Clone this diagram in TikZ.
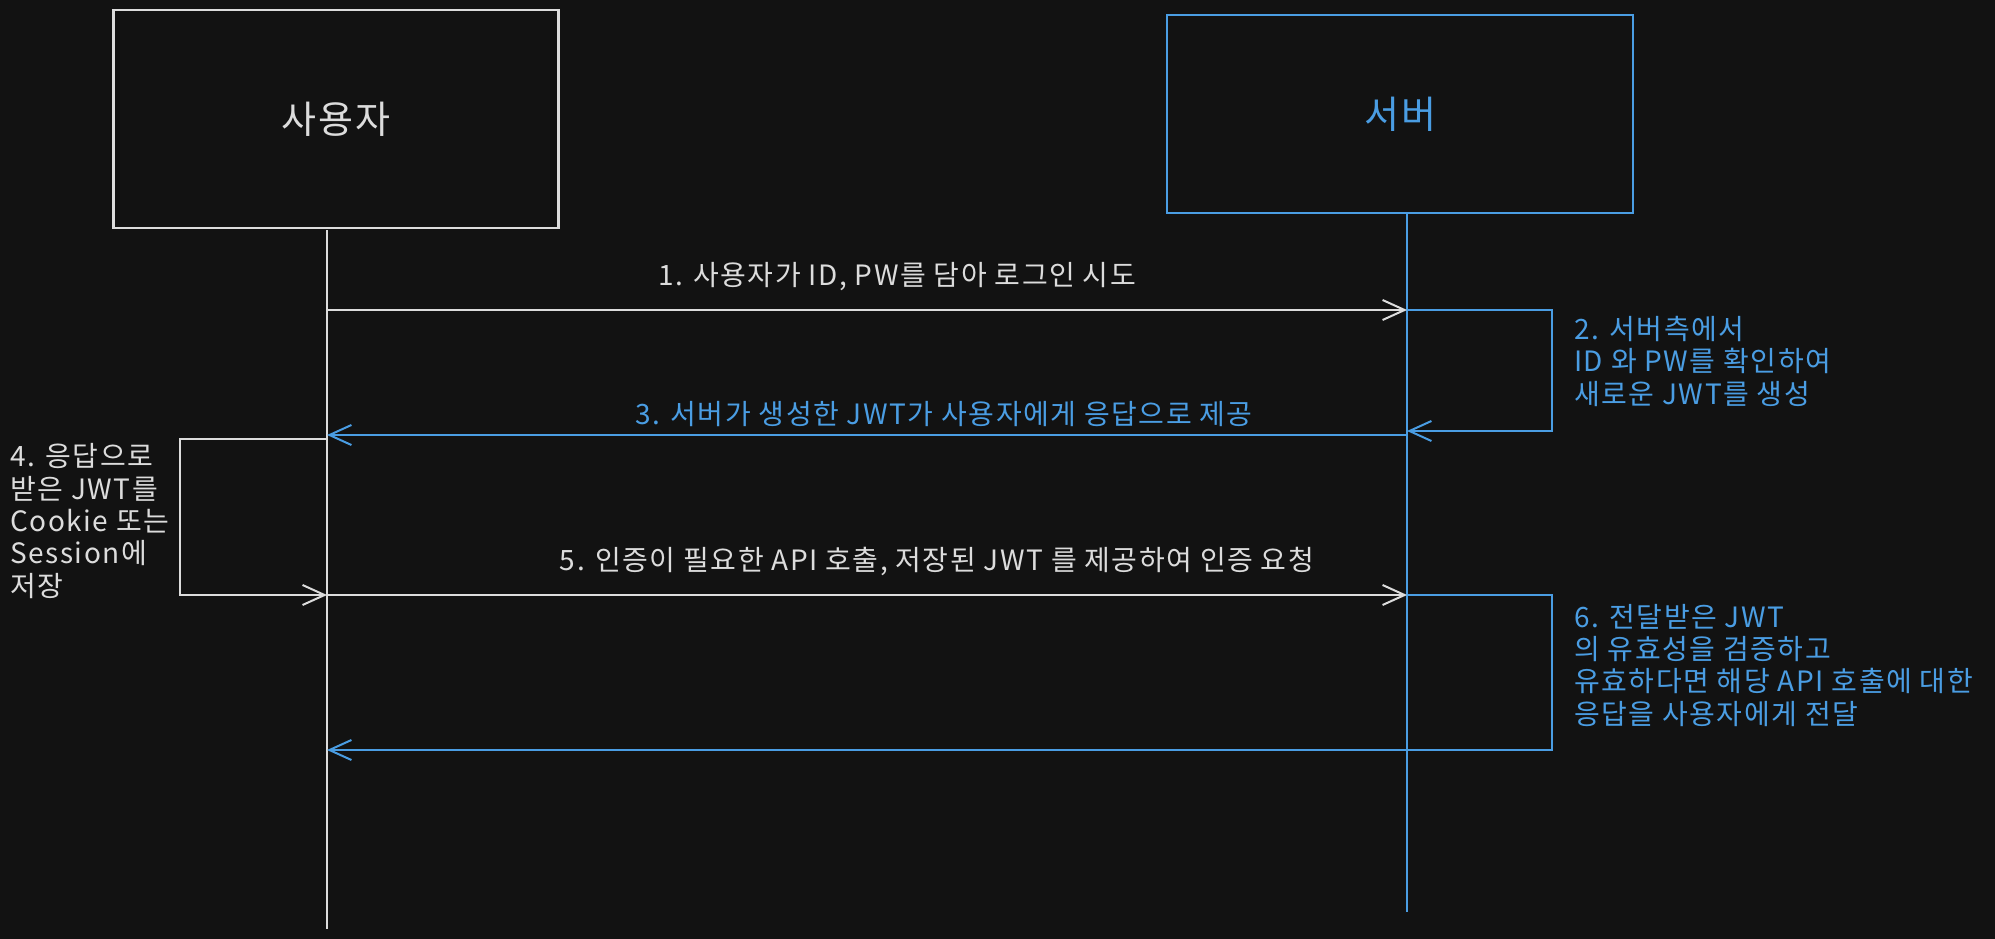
\documentclass[tikz,border=0pt]{standalone}
\usepackage{fontspec}
\setmainfont[LetterSpace=5.5]{Noto Sans CJK KR}
\usetikzlibrary{arrows.meta}
\definecolor{bgcol}{HTML}{121212}
\definecolor{usercol}{HTML}{DCDCDC}
\definecolor{servercol}{HTML}{4A9DE3}
\tikzset{
  actor/.style={draw, rectangle, line width=2.5pt, font=\fontsize{38}{44}\selectfont},
  lifeline/.style={line width=2pt},
  msg/.style={line width=2pt, -{Straight Barb[length=22pt,width=20pt]}},
  msglabel/.style={font=\fontsize{28}{32}\selectfont, anchor=base, inner sep=0pt},
  note/.style={font=\fontsize{28}{32.3}\selectfont, align=left, anchor=base west, inner sep=0pt}
}
\begin{document}
\begin{tikzpicture}[x=1pt, y=-1pt]
        \fill[bgcol] (0,0) rectangle (1995,939);
        \useasboundingbox (0,0) rectangle (1995,939);

        \node[actor, usercol, minimum width=445pt, minimum height=218pt] (user) at (336,119) {사용자};
        \node[actor, servercol, minimum width=466pt, minimum height=198pt] (server) at (1400,114) {서버};

        \coordinate (user top) at (327,230);
        \coordinate (user end) at (327,929);
        \coordinate (server top) at (1407,213);
        \coordinate (server end) at (1407,912);

        \coordinate (u1) at (327,310);
        \coordinate (s1) at (1407,310);
        \coordinate (s2) at (1407,431);
        \coordinate (s3) at (1407,435);
        \coordinate (u3) at (327,435);
        \coordinate (u4) at (327,439);
        \coordinate (u5) at (327,595);
        \coordinate (s5) at (1407,595);
        \coordinate (u6) at (327,750);

        \draw[lifeline, usercol] (user top) -- (user end);
        \draw[lifeline, servercol] (server top) -- (server end);

        \draw[msg, usercol] (u1) -- (s1);
        \draw[msg, servercol] (s1) -- ++(145,0) |- (s2);
        \draw[msg, servercol] (s3) -- (u3);
        \draw[msg, usercol] (u4) -- ++(-147,0) |- (u5);
        \draw[msg, usercol] (u5) -- (s5);
        \draw[msg, servercol] (s5) -- ++(145,0) |- (u6);

        % the notes sit on the baseline of their last line
        \node[msglabel, usercol] (login) at (897,285) {1. 사용자가 ID, PW를 담아 로그인 시도};
        \node[note, servercol] (check) at (1574,404) {2. 서버측에서\\ID 와 PW를 확인하여\\새로운 JWT를 생성};
        \node[msglabel, servercol] (reply) at (944,424) {3. 서버가 생성한 JWT가 사용자에게 응답으로 제공};
        \node[note, usercol] (store) at (10,596) {4. 응답으로\\받은 JWT를\\Cookie 또는\\Session에\\저장};
        \node[msglabel, usercol] (request) at (937,570) {5. 인증이 필요한 API 호출, 저장된 JWT 를 제공하여 인증 요청};
        \node[note, servercol] (verify) at (1574,724) {6. 전달받은 JWT\\의 유효성을 검증하고\\유효하다면 해당 API 호출에 대한\\응답을 사용자에게 전달};
\end{tikzpicture}
\end{document}
